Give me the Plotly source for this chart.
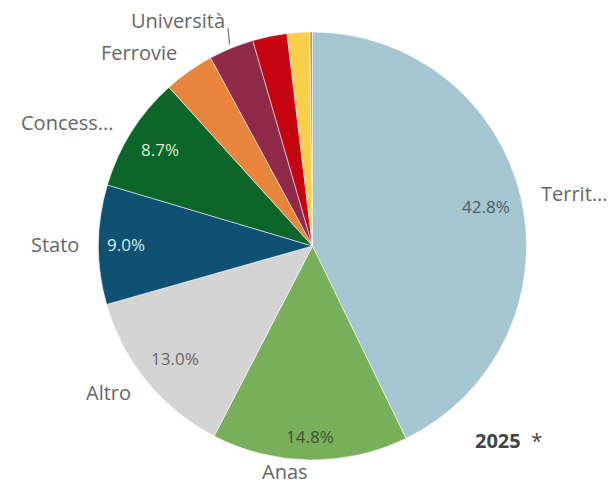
import math
import plotly.graph_objects as go

# slices, clockwise from 12 o'clock
labels = ["Territori", "Anas", "Altro", "Stato", "Concessionarie",
          "Ferrovie", "Università", "Porti", "Aeroporti", "Altri enti"]
label_text = ["Territ...", "Anas", "Altro", "Stato", "Concess...",
              "Ferrovie", "Università", "", "", ""]
values = [42.8, 14.8, 13.0, 9.0, 8.7, 3.8, 3.4, 2.6, 1.7, 0.2]
show_pct = [True, True, True, True, True, False, False, False, False, False]

colors = ["#a5c5d0", "#79ae5a", "#d4d4d4", "#0f5173", "#0d6629",
          "#e9843c", "#8f2a4a", "#c70510", "#f8cf4a", "#a6a46c"]
pct_colors = ["#4c5c63", "#3b5534", "#666666", "#d4ebf5", "#d4efd4",
              "#ffffff", "#ffffff", "#ffffff", "#ffffff", "#ffffff"]
pct_radius = [0.83, 0.89, 0.83, 0.87, 0.845, 0.85, 0.85, 0.85, 0.85, 0.85]
# small nudges for labels that were moved to avoid collisions
name_dx = [0, 0, 0, 0, 0, 0, 3, 0, 0, 0]
name_dy = [0, -6, 0, 0, 0, -4, -11, 0, 0, 0]

W, H = 614, 486
# page body adds an 8px offset, so the pie is placed 8px up/left
cx_px, cy_px, R_px = 304.5, 238, 214
gap = 18
dom = dict(x=[(cx_px - R_px) / W, (cx_px + R_px) / W],
           y=[1 - (cy_px + R_px) / H, 1 - (cy_px - R_px) / H])

fig = go.Figure()

fig.add_trace(go.Pie(
    labels=labels, values=values, sort=False, direction="clockwise",
    domain=dom,
    marker=dict(colors=colors, line=dict(color="rgba(255,255,255,0.55)", width=1)),
    textinfo="none",
    showlegend=False, hoverinfo="skip",
))


def to_paper(px, py):
    return px / W, 1 - py / H


total = sum(values)
cum = 0.0
for i, v in enumerate(values):
    mid = (cum + v / 2) / total * 2 * math.pi
    cum += v
    s, c = math.sin(mid), math.cos(mid)

    # percentage inside the slice, near the rim
    if show_pct[i]:
        x, y = to_paper(cx_px + pct_radius[i] * R_px * s,
                        cy_px - pct_radius[i] * R_px * c)
        fig.add_annotation(
            x=x, y=y, xref="paper", yref="paper", showarrow=False,
            xanchor="center", yanchor="middle",
            text=f"{v / total * 100:.1f}%",
            font=dict(family="Open Sans", size=17, color=pct_colors[i]),
        )

    # category name outside the pie
    if label_text[i]:
        x, y = to_paper(cx_px + (R_px + gap) * s + name_dx[i],
                        cy_px - (R_px + gap) * c + name_dy[i])
        fig.add_annotation(
            x=x, y=y, xref="paper", yref="paper", showarrow=False,
            xanchor="left" if s > 0.05 else "right", yanchor="middle",
            text=label_text[i],
            font=dict(family="Open Sans", size=20, color="#666666"),
        )

    # leader line for the label that was pushed upwards
    if name_dy[i] < -10:
        x, y = to_paper(cx_px + (R_px + 4) * s, cy_px - (R_px + 4) * c)
        fig.add_annotation(
            x=x, y=y, xref="paper", yref="paper", text="",
            showarrow=True, arrowhead=0, arrowwidth=1.2, arrowcolor="#777777",
            ax=-2, ay=-18, standoff=0,
        )

fig.add_annotation(
    x=465 / W, y=1 - 432 / H, xref="paper", yref="paper",
    xanchor="left", yanchor="middle",
    text="<b>2025</b>  *", showarrow=False,
    font=dict(family="Open Sans", size=20, color="#444444"),
)

fig.update_layout(
    width=W, height=H,
    margin=dict(l=0, r=0, t=0, b=0),
    paper_bgcolor="white", plot_bgcolor="white",
)

fig.write_html("out.html")
